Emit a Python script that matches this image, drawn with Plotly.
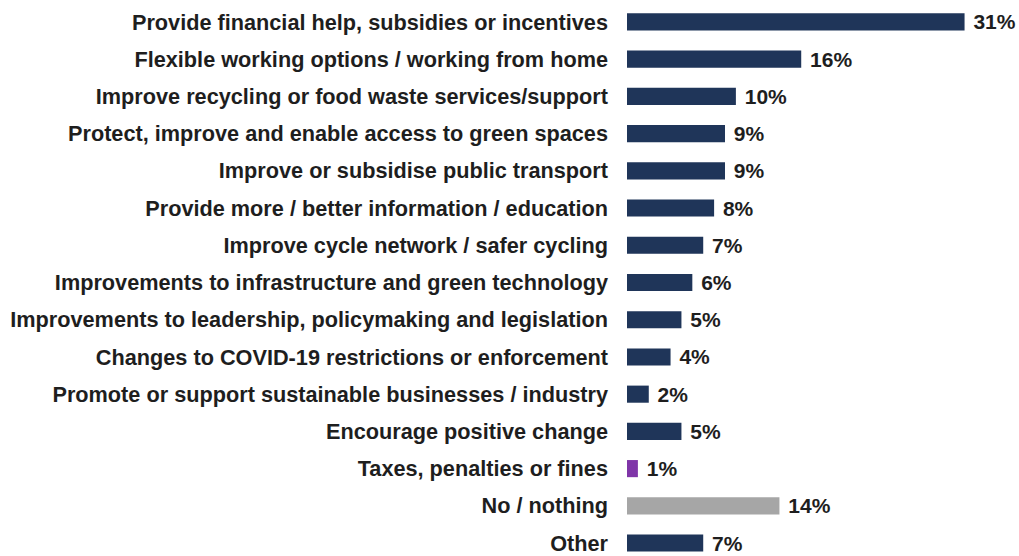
import plotly.graph_objects as go

categories = [
    "Provide financial help, subsidies or incentives",
    "Flexible working options / working from home",
    "Improve recycling or food waste services/support",
    "Protect, improve and enable access to green spaces",
    "Improve or subsidise public transport",
    "Provide more / better information / education",
    "Improve cycle network / safer cycling",
    "Improvements to infrastructure and green technology",
    "Improvements to leadership, policymaking and legislation",
    "Changes to COVID-19 restrictions or enforcement",
    "Promote or support sustainable businesses / industry",
    "Encourage positive change",
    "Taxes, penalties or fines",
    "No / nothing",
    "Other",
]
values = [31, 16, 10, 9, 9, 8, 7, 6, 5, 4, 2, 5, 1, 14, 7]

NAVY = "#1F3559"
PURPLE = "#7F35A8"
GREY = "#A6A6A6"
colors = [NAVY] * 12 + [PURPLE, GREY, NAVY]

TEXT = "#1E1E1E"
FONT = "Liberation Sans"

fig = go.Figure(
    go.Bar(
        x=values,
        y=categories,
        orientation="h",
        marker=dict(color=colors, line=dict(width=0)),
        width=0.46,
        text=[f" {v}%" for v in values],
        textposition="outside",
        constraintext="none",
        textfont=dict(family=FONT, size=21, color=TEXT, weight="bold"),
        cliponaxis=False,
        hoverinfo="skip",
    )
)

fig.update_layout(
    width=1019,
    height=556,
    margin=dict(l=627, r=0, t=0, b=0),
    paper_bgcolor="white",
    plot_bgcolor="white",
    showlegend=False,
    font=dict(family=FONT, color=TEXT),
    xaxis=dict(
        range=[0, 36],
        visible=False,
        showgrid=False,
        zeroline=False,
    ),
    yaxis=dict(
        type="category",
        categoryorder="array",
        categoryarray=categories,
        range=[14.294, -0.589],
        showgrid=False,
        zeroline=False,
        showline=False,
        ticks="",
        ticklabelstandoff=18,
        tickfont=dict(family=FONT, size=21.7, color=TEXT, weight="bold"),
    ),
)

fig.write_html("out.html")
